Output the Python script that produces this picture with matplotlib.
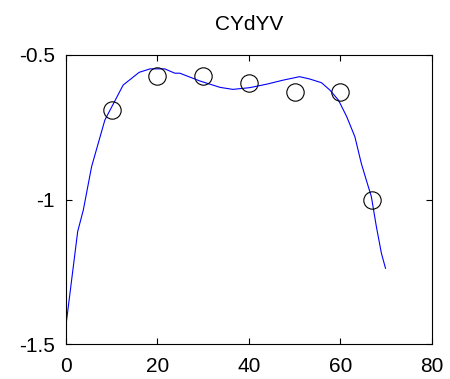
import numpy as np
import matplotlib
matplotlib.use('Agg')
import matplotlib.pyplot as plt

plt.rcParams['font.family'] = ['Liberation Sans', 'DejaVu Sans']

# fitted curve
curve_x = [0, 2.55, 3.79, 5.6, 8.5, 12.5, 16.0, 18.4, 21.6, 23.8, 24.9, 29.3, 33.7, 36.5,
           40.2, 43.9, 47.5, 51.1, 53.3, 55.9, 57.7, 59.6, 61.4, 63.2, 64.6, 65.7, 66.8,
           67.9, 69.0, 69.9]
curve_y = [-1.434, -1.111, -1.036, -0.886, -0.725, -0.604, -0.56, -0.548, -0.548, -0.563,
           -0.563, -0.590, -0.612, -0.619, -0.613, -0.601, -0.587, -0.575, -0.583, -0.596,
           -0.621, -0.656, -0.713, -0.783, -0.875, -0.933, -0.990, -1.094, -1.186, -1.238]

# measured points
obs_x = [10, 20, 30, 40, 50, 60, 67]
obs_y = [-0.69, -0.572, -0.572, -0.598, -0.627, -0.627, -1.0]

fig = plt.figure(figsize=(4.5, 3.79), dpi=100)
ax = fig.add_axes([0.1467, 0.0923, 0.8126, 0.7626])

ax.plot(curve_x, curve_y, color='#0000ff', lw=0.8)
ax.plot(obs_x, obs_y, 'o', mfc='none', mec='black', mew=0.8, ms=12.5)

ax.set_xlim(0, 80)
ax.set_ylim(-1.5, -0.5)
ax.set_xticks([0, 20, 40, 60, 80])
ax.set_yticks([-1.5, -1, -0.5])
ax.set_yticklabels(['-1.5', '-1', '-0.5'])
ax.tick_params(direction='in', top=True, right=True, length=4, width=0.8, labelsize=15)
ax.tick_params(axis='y', pad=8)
ax.tick_params(axis='x', pad=9)
for s in ax.spines.values():
    s.set_linewidth(0.8)

ax.set_title('CYdYV', fontsize=15, pad=18)

fig.savefig('out.png', dpi=100)
